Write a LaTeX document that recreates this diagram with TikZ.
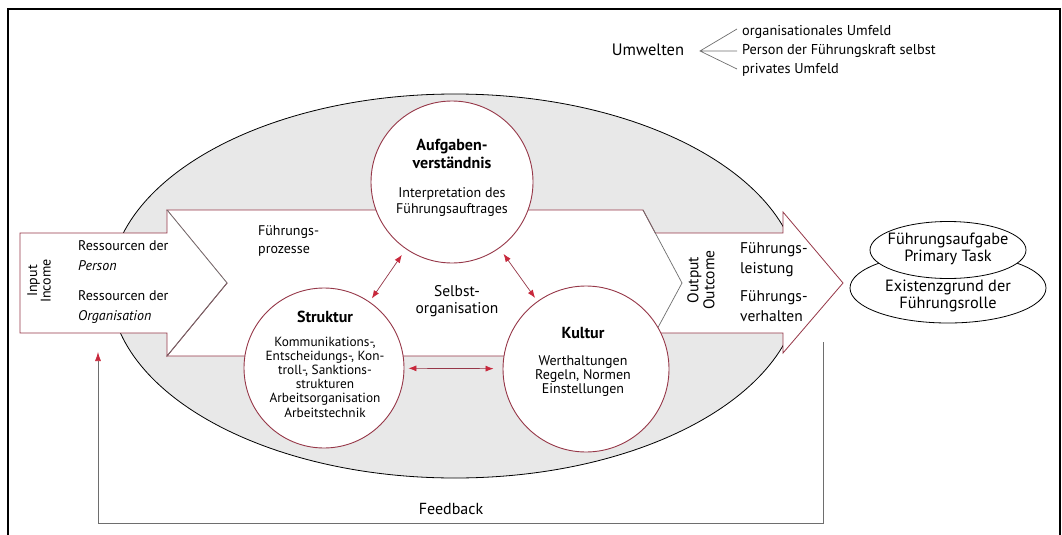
\documentclass[tikz,border=0pt]{standalone}
\usepackage{fontspec}
\setmainfont{PT Sans}
\usetikzlibrary{arrows.meta,shapes.geometric}
\definecolor{edgered}{RGB}{150,55,72}
\definecolor{tipred}{RGB}{200,40,60}
\definecolor{areagray}{RGB}{232,232,232}
\definecolor{linegray}{RGB}{110,110,110}
\begin{document}
\begin{tikzpicture}[x=1pt,y=-1pt,
  redline/.style={draw=edgered,line width=0.8pt,line join=miter},
  grayline/.style={draw=linegray,line width=0.7pt},
  circ/.style={circle,draw=edgered,line width=0.9pt,fill=white,inner sep=0pt},
  oval/.style={ellipse,draw,line width=0.8pt,fill=white,inner sep=0pt},
  link/.style={draw=edgered,line width=0.7pt,{Latex[length=8pt,width=6pt,color=tipred]}-{Latex[length=8pt,width=6pt,color=tipred]}},
  lbl/.style={font=\fontsize{14}{20}\selectfont,align=left,inner sep=0pt},
  ttl/.style={font=\fontsize{16}{18}\selectfont\bfseries,align=center,inner sep=0pt},
  small/.style={font=\fontsize{13.3}{14.2}\selectfont,align=center,inner sep=0pt}]
\useasboundingbox (0,0) rectangle (1062,535);
% outer frame, open at the bottom
\draw[line width=1.2pt] (8,535) -- (8,9) -- (1060,9) -- (1060,535);

% environments
\node[font=\fontsize{16.5}{18}\selectfont,inner sep=0pt] (umw) at (648,50) {Umwelten};
\coordinate (fork) at (700,51);
\coordinate (f1) at (737,29);
\coordinate (f2) at (737,51);
\coordinate (f3) at (737,69);
\draw[grayline] (f1) -- (fork) -- (f3) (fork) -- (f2);
\node[font=\fontsize{14.3}{19}\selectfont,align=left,anchor=west,inner sep=0pt] (umwlist) at (742,51)
  {organisationales Umfeld\\Person der Führungskraft selbst\\privates Umfeld};

% organisation as shaded ellipse
\draw[fill=areagray,line width=0.8pt] (455,286) ellipse [x radius=345pt, y radius=192pt];

% leadership process arrow
\path[fill=white,redline] (167,210) -- (643,210) -- (682,283) -- (643,356) -- (167,356) -- (227,283) -- cycle;
% output arrow
\path[fill=white,redline] (655,233) -- (783,233) -- (783,212) -- (843,283) -- (783,353) -- (783,333) -- (655,333);
\draw[grayline] (643,210) -- (682,283) -- (655,333);
% input arrow
\path[fill=white,redline] (227,283) -- (167,356) -- (167,333) -- (20,333) -- (20,233) -- (167,233) -- (167,210);
\draw[grayline] (167,210) -- (227,283) -- (167,356);

% the three circles
\node[circ,minimum size=162pt] (auf) at (452,182) {};
\node[circ,minimum size=160pt] (str) at (324,368) {};
\node[circ,minimum size=166pt] (kul) at (586,369) {};

\draw[link,shorten <=7pt,shorten >=4pt] (auf) -- (str);
\draw[link,shorten <=7pt,shorten >=4pt] (auf) -- (kul);
\draw[link,shorten <=4pt,shorten >=9pt] (str) -- (kul);

% right-hand ellipses
\node[oval,minimum width=196pt,minimum height=70pt] (role) at (948,288) {};
\node[oval,minimum width=156pt,minimum height=57pt] (task) at (948,250) {};
\node[font=\fontsize{16.3}{17.5}\selectfont,align=center,inner sep=0pt] (tasktext) at (948,249) {Führungsaufgabe\\Primary Task};
\node[font=\fontsize{16.3}{17}\selectfont,align=center,inner sep=0pt] (roletext) at (948,296) {Existenzgrund der\\Führungsrolle};

% feedback loop
\coordinate (fbr) at (823,342);
\coordinate (fbbr) at (823,523);
\coordinate (fbbl) at (98,523);
\coordinate (fbtip) at (98,352);
\draw[grayline,-{Latex[length=9pt,width=6pt,color=tipred]}] (fbr) -- (fbbr) -- (fbbl) -- (fbtip);
\node[font=\fontsize{16}{18}\selectfont,inner sep=0pt] (fb) at (451,509) {Feedback};

% labels
\node[font=\fontsize{14}{12.5}\selectfont,align=center,rotate=90,inner sep=0pt] (input) at (39,281) {Input\\Income};
\node[lbl,anchor=west] (res1) at (78,256) {Ressourcen der\\\itshape Person};
\node[lbl,anchor=west] (res2) at (78,307) {Ressourcen der\\\itshape Organisation};
\node[lbl,anchor=west,font=\fontsize{14}{18.5}\selectfont] (proc) at (258,241) {Führungs-\\prozesse};
\node[lbl,align=center,font=\fontsize{15.5}{17.5}\selectfont] (selbst) at (457,301) {Selbst-\\organisation};
\node[font=\fontsize{15.5}{16}\selectfont,align=center,rotate=90,inner sep=0pt] (output) at (701,280) {Output\\Outcome};
\node[lbl,anchor=west,font=\fontsize{15.5}{20}\selectfont] (lei) at (740,260) {Führungs-\\leistung};
\node[lbl,anchor=west,font=\fontsize{15.5}{20}\selectfont] (verh) at (740,306) {Führungs-\\verhalten};

\node[ttl] (auft) at (452,154) {Aufgaben-\\verständnis};
\node[small,font=\fontsize{14}{16}\selectfont] (aufd) at (452,202) {Interpretation des\\Führungsauftrages};
\node[ttl] (strt) at (325,317) {Struktur};
\node[small] (strd) at (325,377) {Kommunikations-,\\Entscheidungs-, Kon-\\troll-, Sanktions-\\strukturen\\Arbeitsorganisation\\Arbeitstechnik};
\node[ttl] (kult) at (583,333) {Kultur};
\node[small,font=\fontsize{14}{14.2}\selectfont] (kuld) at (583,376) {Werthaltungen\\Regeln, Normen\\Einstellungen};
\end{tikzpicture}
\end{document}
